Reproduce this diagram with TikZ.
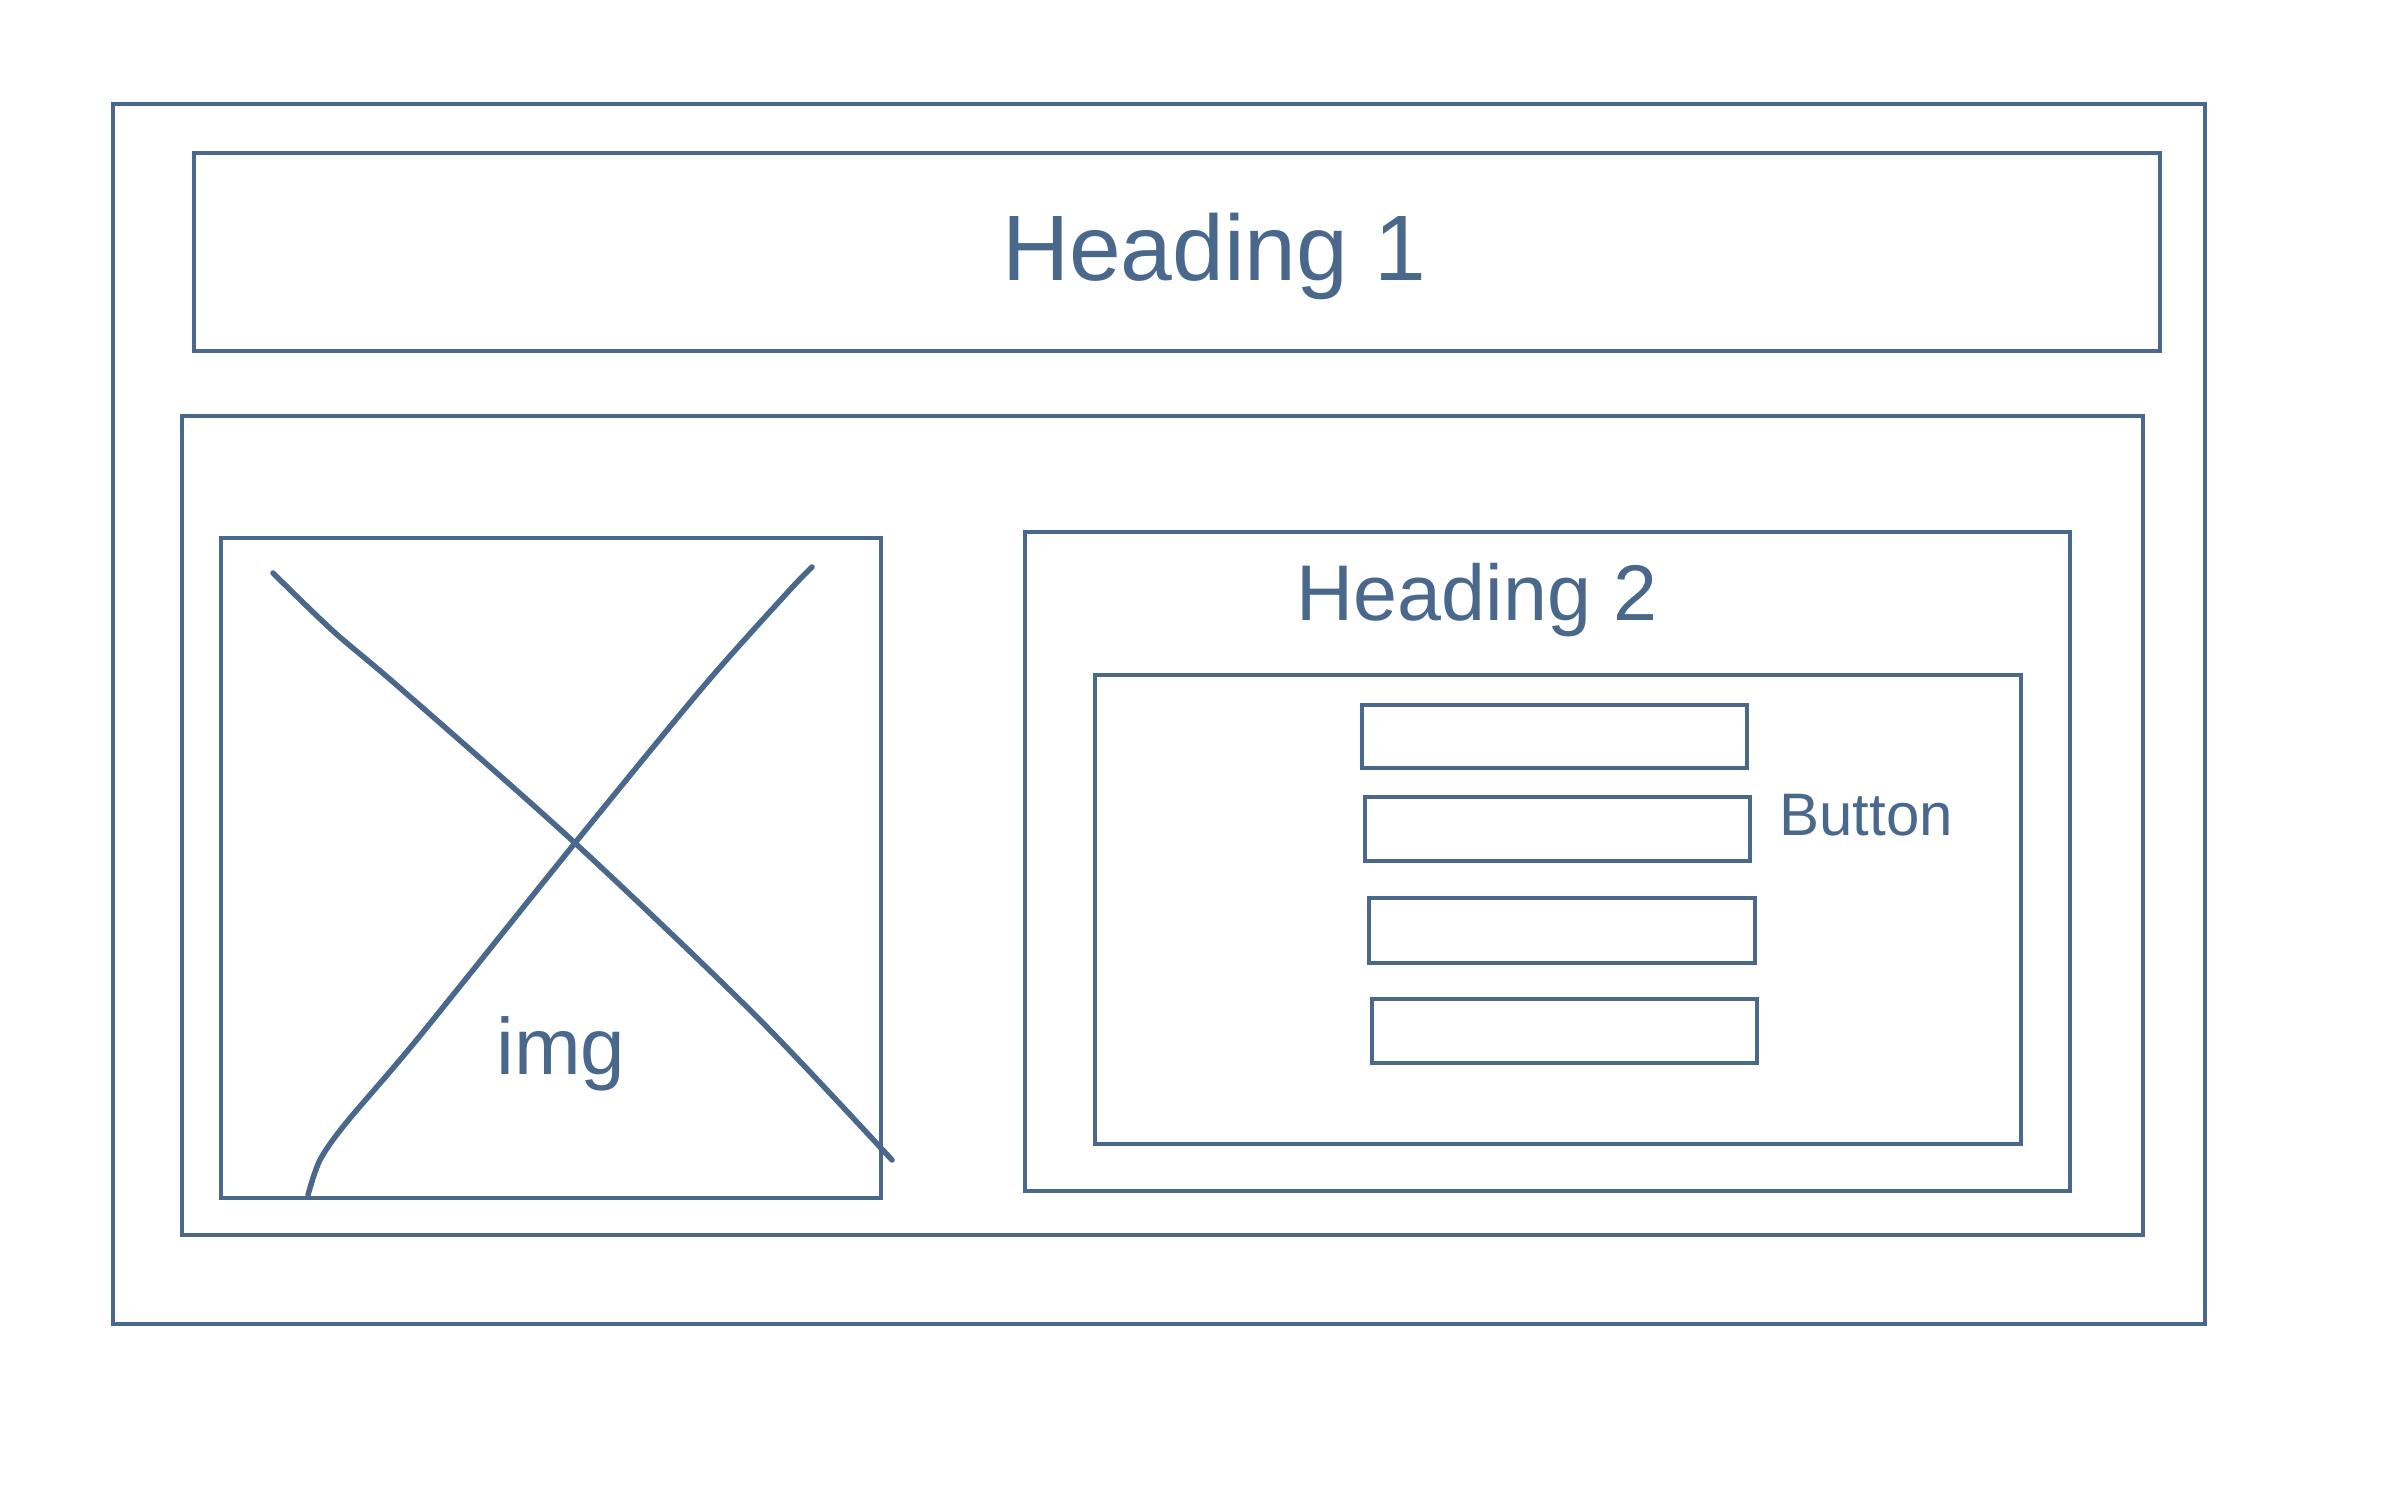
\documentclass[tikz,border=0pt]{standalone}
\usepackage{fontspec}
\setmainfont{Liberation Sans}
\definecolor{ink}{RGB}{74,104,140}
\begin{document}
\begin{tikzpicture}[x=1pt,y=-1pt,
  box/.style={draw=ink,line width=3.6pt,inner sep=0pt,anchor=north west},
  hand/.style={text=ink,inner sep=0pt,anchor=base},
  stroke/.style={draw=ink,line width=5.5pt,line cap=round,line join=round}]
\useasboundingbox[fill=white] (0,0) rectangle (2386,1491);
% page frame and sections
\node[box,minimum width=2092pt,minimum height=1220pt] (page) at (111,102) {};
\node[box,minimum width=1966pt,minimum height=198pt] (head) at (192,151) {};
\node[box,minimum width=1961pt,minimum height=819pt] (main) at (180,414) {};
\node[box,minimum width=660pt,minimum height=660pt] (img) at (219,536) {};
\node[box,minimum width=1045pt,minimum height=659pt] (panel) at (1023,530) {};
\node[box,minimum width=926pt,minimum height=469pt] (form) at (1093,673) {};
% buttons
\node[box,minimum width=385pt,minimum height=63pt] (b1) at (1360,703) {};
\node[box,minimum width=385pt,minimum height=64pt] (b2) at (1363,795) {};
\node[box,minimum width=386pt,minimum height=65pt] (b3) at (1367,896) {};
\node[box,minimum width=385pt,minimum height=64pt] (b4) at (1370,997) {};
% labels
\node[hand,font=\fontsize{93}{100}\selectfont] (h1) at (1214,280) {Heading 1};
\node[hand,font=\fontsize{79}{86}\selectfont] (h2) at (1477,620) {Heading 2};
\node[hand,font=\fontsize{60}{66}\selectfont] (btn) at (1866,835) {Button};
\node[hand,font=\fontsize{80}{86}\selectfont] (imgtxt) at (561,1074) {img};
% image placeholder cross
\coordinate (x) at (575,843);
\draw[stroke] plot[smooth,tension=0.5] coordinates {(273,573) (333,631) (400,688) (x) (757,1017) (892,1160)};
\draw[stroke] plot[smooth,tension=0.5] coordinates {(308,1195) (320,1160) (346,1123) (419,1037) (x) (703,687) (787,593) (812,567)};
\end{tikzpicture}
\end{document}
